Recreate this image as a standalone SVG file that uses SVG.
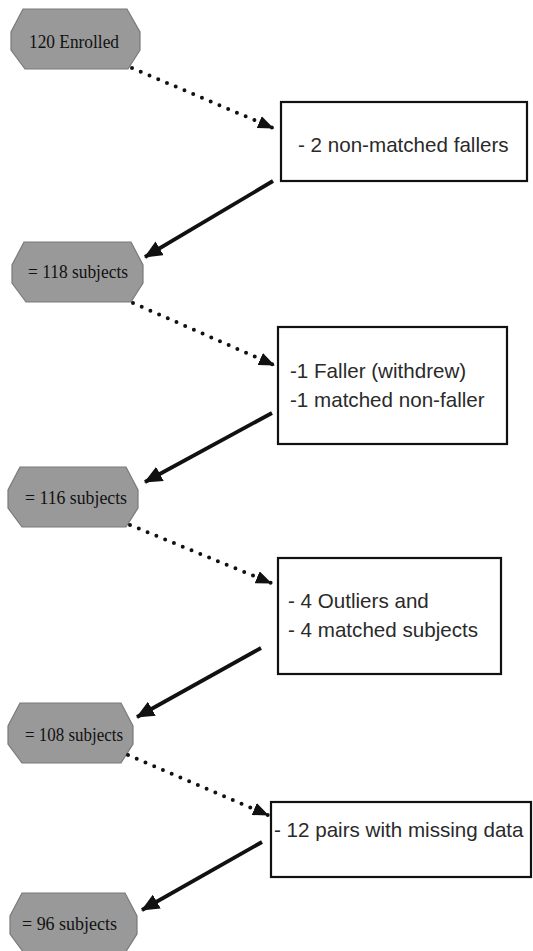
<svg xmlns="http://www.w3.org/2000/svg" width="533" height="951" viewBox="0 0 533 951">
<style>
.oct{fill:#999999;stroke:#7a7a7a;stroke-width:1.2}
.ot{font-family:"Liberation Serif",serif;font-size:19px;fill:#111;lengthAdjust:spacingAndGlyphs}
.box{fill:#fff;stroke:#111;stroke-width:2.2}
.bt{font-family:"Liberation Sans",Arial,sans-serif;font-size:20.6px;fill:#2a2a2a}
.dot{fill:none;stroke:#111;stroke-width:4;stroke-linecap:round;stroke-dasharray:0 9.5}
.sol{fill:none;stroke:#111;stroke-width:3.8}
</style>
<defs>
<marker id="hd" viewBox="0 0 16 13" refX="15" refY="6.5" markerWidth="16" markerHeight="13" markerUnits="userSpaceOnUse" orient="auto">
<path d="M0,0 L16,6.5 L0,13 Z" fill="#111"/>
</marker>
<marker id="hs" viewBox="0 0 18 16" refX="17" refY="8" markerWidth="18" markerHeight="16" markerUnits="userSpaceOnUse" orient="auto">
<path d="M0,0 L18,8 L0,16 Z" fill="#111"/>
</marker>
</defs>
<g id="n1"><path class="oct" d="M23,9 H127 L140,32 V50 L128,69 H25 L11,50 V32 Z"/><text class="ot" x="29" y="48" textLength="90" lengthAdjust="spacingAndGlyphs">120 Enrolled</text></g>
<g id="b1"><rect class="box" x="281" y="102" width="246" height="79"/><text class="bt" x="298" y="152">- 2 non-matched fallers</text></g>
<g id="n2"><path class="oct" d="M24,242 H131 L143,265 V283 L131,302 H26 L12,283 V265 Z"/><text class="ot" x="28" y="278" textLength="100" lengthAdjust="spacingAndGlyphs">= 118 subjects</text></g>
<g id="b2"><rect class="box" x="278" y="327" width="229" height="117"/><text class="bt" x="290" y="378">-1 Faller (withdrew)</text><text class="bt" x="290" y="407">-1 matched non-faller</text></g>
<g id="n3"><path class="oct" d="M20,467 H126 L138,490 V508 L126,527 H22 L8,508 V490 Z"/><text class="ot" x="25" y="504" textLength="102" lengthAdjust="spacingAndGlyphs">= 116 subjects</text></g>
<g id="b3"><rect class="box" x="278" y="558" width="223" height="116"/><text class="bt" x="288" y="608">- 4 Outliers and</text><text class="bt" x="288" y="637">- 4 matched subjects</text></g>
<g id="n4"><path class="oct" d="M20,703 H121 L133,726 V744 L121,763 H22 L8,744 V726 Z"/><text class="ot" x="25" y="741" textLength="98" lengthAdjust="spacingAndGlyphs">= 108 subjects</text></g>
<g id="b4"><rect class="box" x="271" y="802" width="260" height="75"/><text class="bt" x="274" y="837">- 12 pairs with missing data</text></g>
<g id="n5"><path class="oct" d="M22,893 H125 L137,916 V934 L125,953 H24 L10,934 V916 Z"/><text class="ot" x="22" y="930" textLength="95" lengthAdjust="spacingAndGlyphs">= 96 subjects</text></g>
<g id="connectors">
<path class="dot" d="M132,68 L273,128" marker-end="url(#hd)"/>
<path class="sol" d="M273,181 L145,257" marker-end="url(#hs)"/>
<path class="dot" d="M133,303 L274,365" marker-end="url(#hd)"/>
<path class="sol" d="M272,413 L145,482" marker-end="url(#hs)"/>
<path class="dot" d="M130,525 L271,583" marker-end="url(#hd)"/>
<path class="sol" d="M261,648 L137,717" marker-end="url(#hs)"/>
<path class="dot" d="M128,755 L268,815" marker-end="url(#hd)"/>
<path class="sol" d="M262,842 L142,910" marker-end="url(#hs)"/>
</g>
</svg>
